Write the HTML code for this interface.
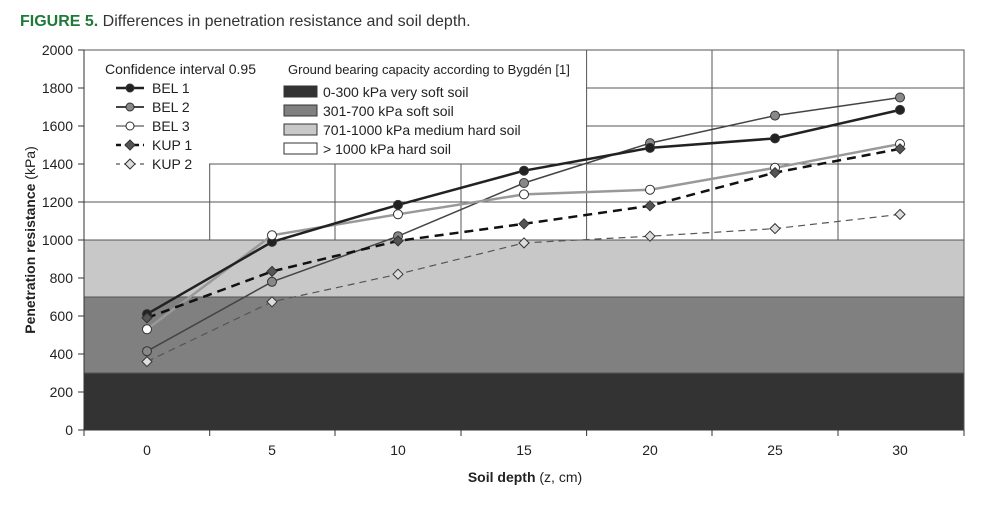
<!DOCTYPE html>
<html><head><meta charset="utf-8"><style>
body{margin:0;background:#fff;width:1000px;height:501px;overflow:hidden}
svg text{font-family:"Liberation Sans",sans-serif}
</style></head><body>
<svg width="1000" height="501" viewBox="0 0 1000 501" xmlns="http://www.w3.org/2000/svg">
<text x="20" y="26" font-size="16" fill="#1f7a3a" font-weight="bold">FIGURE 5.<tspan fill="#333" font-weight="normal"> Differences in penetration resistance and soil depth.</tspan></text>
<rect x="84" y="373" width="880" height="57" fill="#333"/>
<rect x="84" y="297" width="880" height="76" fill="#808080"/>
<rect x="84" y="240" width="880" height="57" fill="#c8c8c8"/>
<g stroke="#555" stroke-width="1" fill="none">
<rect x="84" y="50" width="880" height="380"/>
<line x1="84" y1="202" x2="964" y2="202"/>
<line x1="209" y1="164" x2="964" y2="164"/>
<line x1="586" y1="126" x2="964" y2="126"/>
<line x1="586" y1="88" x2="964" y2="88"/>
<line x1="84" y1="240" x2="964" y2="240"/>
<line x1="84" y1="297" x2="964" y2="297"/>
<line x1="84" y1="373" x2="964" y2="373"/>
<line x1="209.7" y1="164" x2="209.7" y2="240"/>
<line x1="335" y1="164" x2="335" y2="240"/>
<line x1="461" y1="164" x2="461" y2="240"/>
<line x1="586.6" y1="50" x2="586.6" y2="240"/>
<line x1="712" y1="50" x2="712" y2="240"/>
<line x1="838" y1="50" x2="838" y2="240"/>
</g>
<g stroke="#333" stroke-width="1">
<line x1="84" y1="50" x2="84" y2="436"/>
<line x1="78" y1="430" x2="964" y2="430"/>
<line x1="78" y1="50" x2="84" y2="50"/><line x1="78" y1="88" x2="84" y2="88"/><line x1="78" y1="126" x2="84" y2="126"/><line x1="78" y1="164" x2="84" y2="164"/><line x1="78" y1="202" x2="84" y2="202"/><line x1="78" y1="240" x2="84" y2="240"/><line x1="78" y1="278" x2="84" y2="278"/><line x1="78" y1="316" x2="84" y2="316"/><line x1="78" y1="354" x2="84" y2="354"/><line x1="78" y1="392" x2="84" y2="392"/>
<line x1="209.7" y1="430" x2="209.7" y2="436"/><line x1="335" y1="430" x2="335" y2="436"/><line x1="461" y1="430" x2="461" y2="436"/><line x1="586.6" y1="430" x2="586.6" y2="436"/><line x1="712" y1="430" x2="712" y2="436"/><line x1="838" y1="430" x2="838" y2="436"/><line x1="964" y1="430" x2="964" y2="436"/>
</g>
<g font-size="14" fill="#222" text-anchor="end">
<text x="73" y="55">2000</text><text x="73" y="93">1800</text><text x="73" y="131">1600</text><text x="73" y="169">1400</text><text x="73" y="207">1200</text><text x="73" y="245">1000</text><text x="73" y="283">800</text><text x="73" y="321">600</text><text x="73" y="359">400</text><text x="73" y="397">200</text><text x="73" y="435">0</text>
</g>
<g font-size="14" fill="#222" text-anchor="middle">
<text x="147" y="455">0</text><text x="272" y="455">5</text><text x="398" y="455">10</text><text x="524" y="455">15</text><text x="650" y="455">20</text><text x="775" y="455">25</text><text x="900" y="455">30</text>
<text x="525" y="482" font-size="14"><tspan font-weight="bold">Soil depth</tspan> (z, cm)</text>
<text transform="translate(35,240) rotate(-90)" font-size="14"><tspan font-weight="bold">Penetration resistance</tspan> (kPa)</text>
</g>
<polyline fill="none" stroke="#444" stroke-width="1.5" points="147,351.2 272,281.8 398,236.2 524,183 650,143.1 775,115.6 900,97.5"/>
<polyline fill="none" stroke="#999" stroke-width="2.5" points="147,329.3 272,235.3 398,214.3 524,194.4 650,189.7 775,167.8 900,144"/>
<polyline fill="none" stroke="#222" stroke-width="2.5" points="147,314.1 272,241.9 398,204.9 524,170.7 650,147.9 775,138.4 900,109.9"/>
<polyline fill="none" stroke="#111" stroke-width="2.5" stroke-dasharray="9,6" points="147,317.9 272,271.4 398,240.9 524,223.8 650,205.8 775,172.6 900,148.8"/>
<polyline fill="none" stroke="#555" stroke-width="1.2" stroke-dasharray="7,5" points="147,361.6 272,301.8 398,274.2 524,242.9 650,236.2 775,228.6 900,214.4"/>
<g stroke="#333" stroke-width="1">
<g fill="#888"><circle cx="147" cy="351.2" r="4.5"/><circle cx="272" cy="281.8" r="4.5"/><circle cx="398" cy="236.2" r="4.5"/><circle cx="524" cy="183" r="4.5"/><circle cx="650" cy="143.1" r="4.5"/><circle cx="775" cy="115.6" r="4.5"/><circle cx="900" cy="97.5" r="4.5"/></g>
<g fill="#222"><circle cx="147" cy="314.1" r="4.5"/><circle cx="272" cy="241.9" r="4.5"/><circle cx="398" cy="204.9" r="4.5"/><circle cx="524" cy="170.7" r="4.5"/><circle cx="650" cy="147.9" r="4.5"/><circle cx="775" cy="138.4" r="4.5"/><circle cx="900" cy="109.9" r="4.5"/></g>
<g fill="#fff"><circle cx="147" cy="329.3" r="4.5"/><circle cx="272" cy="235.3" r="4.5"/><circle cx="398" cy="214.3" r="4.5"/><circle cx="524" cy="194.4" r="4.5"/><circle cx="650" cy="189.7" r="4.5"/><circle cx="775" cy="167.8" r="4.5"/><circle cx="900" cy="144" r="4.5"/></g>
<g fill="#555"><path d="M147 312.9l5 5-5 5-5-5z"/><path d="M272 266.4l5 5-5 5-5-5z"/><path d="M398 235.9l5 5-5 5-5-5z"/><path d="M524 218.8l5 5-5 5-5-5z"/><path d="M650 200.8l5 5-5 5-5-5z"/><path d="M775 167.6l5 5-5 5-5-5z"/><path d="M900 143.8l5 5-5 5-5-5z"/></g>
<g fill="#ddd"><path d="M147 356.6l5 5-5 5-5-5z"/><path d="M272 296.8l5 5-5 5-5-5z"/><path d="M398 269.2l5 5-5 5-5-5z"/><path d="M524 237.9l5 5-5 5-5-5z"/><path d="M650 231.2l5 5-5 5-5-5z"/><path d="M775 223.6l5 5-5 5-5-5z"/><path d="M900 209.4l5 5-5 5-5-5z"/></g>
</g>
<g font-size="14" fill="#222">
<text x="105" y="74">Confidence interval 0.95</text>
<text x="288" y="74" font-size="13">Ground bearing capacity according to Bygdén [1]</text>
<text x="152" y="93">BEL 1</text><text x="152" y="112">BEL 2</text><text x="152" y="131">BEL 3</text><text x="152" y="150">KUP 1</text><text x="152" y="169">KUP 2</text>
<text x="323" y="97">0-300 kPa very soft soil</text><text x="323" y="116">301-700 kPa soft soil</text><text x="323" y="135">701-1000 kPa medium hard soil</text><text x="323" y="154">&gt; 1000 kPa hard soil</text>
</g>
<g stroke="#333">
<line x1="116" y1="88" x2="144" y2="88" stroke="#222" stroke-width="2.5"/><circle cx="130" cy="88" r="4" fill="#222"/>
<line x1="116" y1="107" x2="144" y2="107" stroke="#444" stroke-width="2"/><circle cx="130" cy="107" r="4" fill="#888"/>
<line x1="116" y1="126" x2="144" y2="126" stroke="#999" stroke-width="2"/><circle cx="130" cy="126" r="4" fill="#fff"/>
<line x1="116" y1="145" x2="144" y2="145" stroke="#111" stroke-width="2.5" stroke-dasharray="5,4"/><path d="M130 140l5 5-5 5-5-5z" fill="#555"/>
<line x1="116" y1="164" x2="144" y2="164" stroke="#555" stroke-width="1.2" stroke-dasharray="4,4"/><path d="M130 159l5 5-5 5-5-5z" fill="#ddd"/>
<rect x="284" y="86" width="33" height="11" fill="#333"/>
<rect x="284" y="105" width="33" height="11" fill="#808080"/>
<rect x="284" y="124" width="33" height="11" fill="#c8c8c8"/>
<rect x="284" y="143" width="33" height="11" fill="#fff"/>
</g>
</svg>
</body></html>
